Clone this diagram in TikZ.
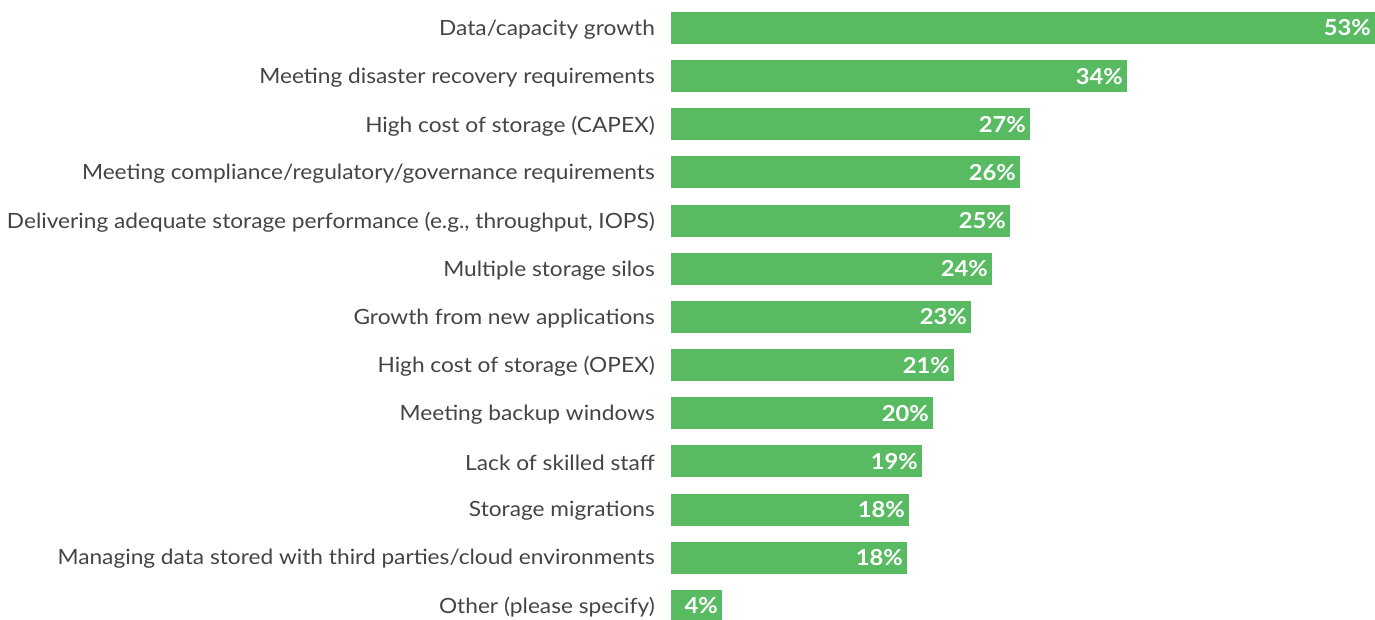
\documentclass[tikz,border=0pt]{standalone}
\usepackage{fontspec}
\setmainfont{Lato}[FakeStretch=1.08]
\usetikzlibrary{positioning}
\definecolor{bargreen}{HTML}{58BB62}
\definecolor{labgray}{HTML}{444444}
\tikzset{lab/.style={anchor=east, text=labgray, font=\fontsize{21}{25}\selectfont, inner sep=0pt, yshift=-1.5pt},
         bar/.style={fill=bargreen, draw=none},
         pct/.style={anchor=east, text=white, font=\fontsize{22}{26}\selectfont\bfseries, inner sep=0pt}}

\begin{document}
\begin{tikzpicture}[x=1pt,y=1pt]
\useasboundingbox (0,0) rectangle (1375,-619);

\foreach \i/\lab/\w/\p in {
  0/{Data/capacity growth}/1375/53\%,
  1/{Meeting disaster recovery requirements}/1127/34\%,
  2/{High cost of storage (CAPEX)}/1030/27\%,
  3/{Meeting compliance/regulatory/governance requirements}/1020/26\%,
  4/{Delivering adequate storage performance (e.g., throughput, IOPS)}/1010/25\%,
  5/{Multiple storage silos}/992/24\%,
  6/{Growth from new applications}/971/23\%,
  7/{High cost of storage (OPEX)}/954/21\%,
  8/{Meeting backup windows}/933/20\%,
  9/{Lack of skilled staff}/922/19\%,
  10/{Storage migrations}/909/18\%,
  11/{Managing data stored with third parties/cloud environments}/907/18\%,
  12/{Other (please specify)}/722/4\%}
{
  \pgfmathsetmacro{\yc}{-28-48.15*\i}
  \node[lab] (lab\i) at (655,\yc) {\lab};
  \draw[bar] (671,\yc-16) rectangle (\w,\yc+16);
  \node[pct] (pct\i) at (\w-4,\yc) {\p};
}
\end{tikzpicture}
\end{document}
